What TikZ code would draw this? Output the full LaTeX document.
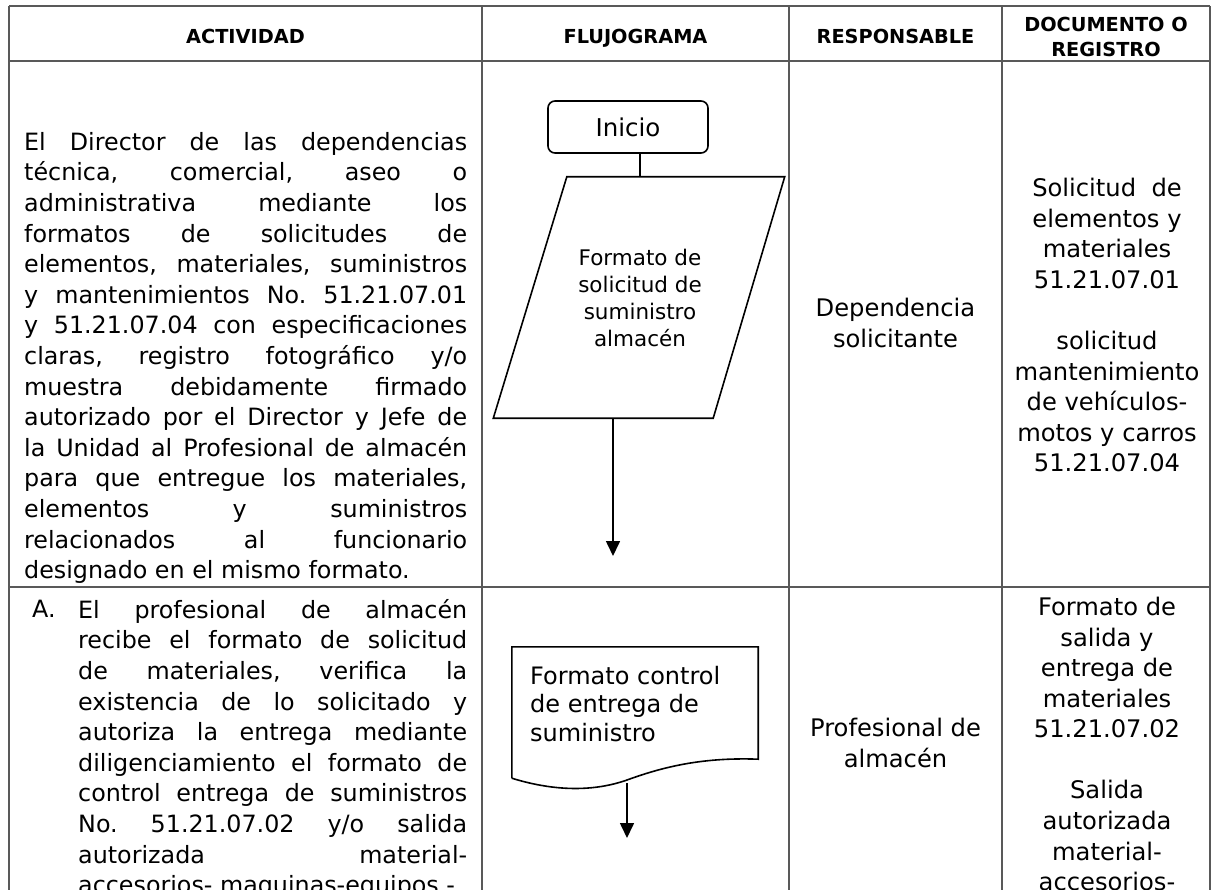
\documentclass[tikz,border=0pt]{standalone}
\usepackage{fontspec}
\setmainfont{DejaVu Sans}
\usetikzlibrary{arrows.meta,positioning}

\hyphenpenalty=10000
\tolerance=10000
\hbadness=10000
\frenchspacing

\tikzset{
  encabezado/.style={font=\bfseries\fontsize{19.3}{25}\selectfont, inner sep=0pt, align=center},
  texto/.style={font=\fontsize{24.2}{30.6}\selectfont, inner sep=0pt, align=center},
  parrafo/.style={font=\fontsize{23.8}{30.6}\selectfont, inner sep=0pt},
  linea/.style={line width=2.6pt, draw=black!65},
  figura/.style={draw, line width=1.6pt},
  flecha/.style={line width=1.6pt, -{Triangle[width=14pt,length=15pt]}},
}

\begin{document}
\begin{tikzpicture}[x=1pt,y=-1pt]

\useasboundingbox (0,0) rectangle (1212,890);
\clip (0,0) rectangle (1212,890);
\fill[white] (0,0) rectangle (1212,890);

% tabla
\foreach \y in {6,61,587}
    \draw[linea] (9,\y) -- (1210,\y);
\foreach \x in {9,482,789,1002,1210}
    \draw[linea] (\x,6) -- (\x,890);

% encabezados
\node[encabezado, anchor=base] (hAct) at (245.5,44) {ACTIVIDAD};
\node[encabezado, anchor=base] (hFlu) at (635.5,44) {FLUJOGRAMA};
\node[encabezado, anchor=base] (hRes) at (895.5,44) {RESPONSABLE};
\node[encabezado] (hDoc) at (1106,37) {DOCUMENTO O\\REGISTRO};

% fila 1
\node[parrafo, text width=443pt, align=justify, anchor=north west] (act1) at (24,132)
{El Director de las dependencias\linebreak
técnica, comercial, aseo o\linebreak
administrativa mediante los\linebreak
formatos de solicitudes de\linebreak
elementos, materiales, suministros\linebreak
y mantenimientos No. 51.21.07.01\linebreak
y 51.21.07.04 con especificaciones\linebreak
claras, registro fotográfico y/o\linebreak
muestra debidamente firmado\linebreak
autorizado por el Director y Jefe de\linebreak
la Unidad al Profesional de almacén\linebreak
para que entregue los materiales,\linebreak
elementos y suministros\linebreak
relacionados al funcionario\linebreak
designado en el mismo formato.};

\node[figura, rounded corners=7pt, minimum width=160pt, minimum height=52pt,
      inner sep=0pt, font=\fontsize{24.5}{30}\selectfont] (inicio) at (628,127) {Inicio};

\node[minimum width=146pt, minimum height=241pt, inner sep=0pt,
      align=center, font=\fontsize{21.5}{27}\selectfont] (formato) at (640,297.5)
{Formato de\\solicitud de\\suministro\\almacén};
\draw[figura] ([xshift=-73.5pt]formato.south west) -- (formato.north west)
    -- ([xshift=71.5pt]formato.north east) -- (formato.south east) -- cycle;

\draw[figura] (inicio.south -| formato.north) -- (formato.north);

\coordinate (fin1) at (613,556);
\draw[flecha] (formato.south -| fin1) -- (fin1);

\node[texto, anchor=north] (resp1) at (895.5,298) {Dependencia\\solicitante};

\node[texto, anchor=north] (doc1) at (1107,178)
{Solicitud \ de\\elementos y\\materiales\\51.21.07.01\\[30.6pt]
solicitud\\mantenimiento\\de vehículos-\\motos y carros\\51.21.07.04};

% fila 2
\node[parrafo, text width=389pt, align=justify, anchor=north west] (act2) at (78,599)
{\parfillskip=0pt
El profesional de almacén\linebreak
recibe el formato de solicitud\linebreak
de materiales, verifica la\linebreak
existencia de lo solicitado y\linebreak
autoriza la entrega mediante\linebreak
diligenciamiento el formato de\linebreak
control entrega de suministros\linebreak
No. 51.21.07.02 y/o salida\linebreak
autorizada material-\linebreak
accesorios- maquinas-equipos~-};
\node[parrafo, anchor=north west] (marcaA) at ([xshift=-46pt,yshift=-0.7pt]act2.north west) {A.};

\node[minimum width=246pt, minimum height=131pt, inner sep=0pt] (documento) at (635,712.5) {};
\draw[figura] (documento.south west) -- (documento.north west) -- (documento.north east)
    -- ([yshift=19pt]documento.south east)
    .. controls (700,757) and (660,768) .. (627,780)
    .. controls (590,793) and (550,790) .. (documento.south west);
\node[texto, align=left, font=\fontsize{24}{28.5}\selectfont, anchor=north west] (control) at (530,666)
{Formato control\\de entrega de\\suministro};

\coordinate (ola) at (627,783);
\coordinate (fin2) at (627,838);
\draw[flecha] (ola) -- (fin2);

\node[texto, anchor=north] (resp2) at (895.5,718) {Profesional de\\almacén};

\node[texto, anchor=north] (doc2) at (1107,597)
{Formato de\\salida y\\entrega de\\materiales\\51.21.07.02\\[30.4pt]
Salida\\autorizada\\material-\\accesorios-};

\end{tikzpicture}
\end{document}
